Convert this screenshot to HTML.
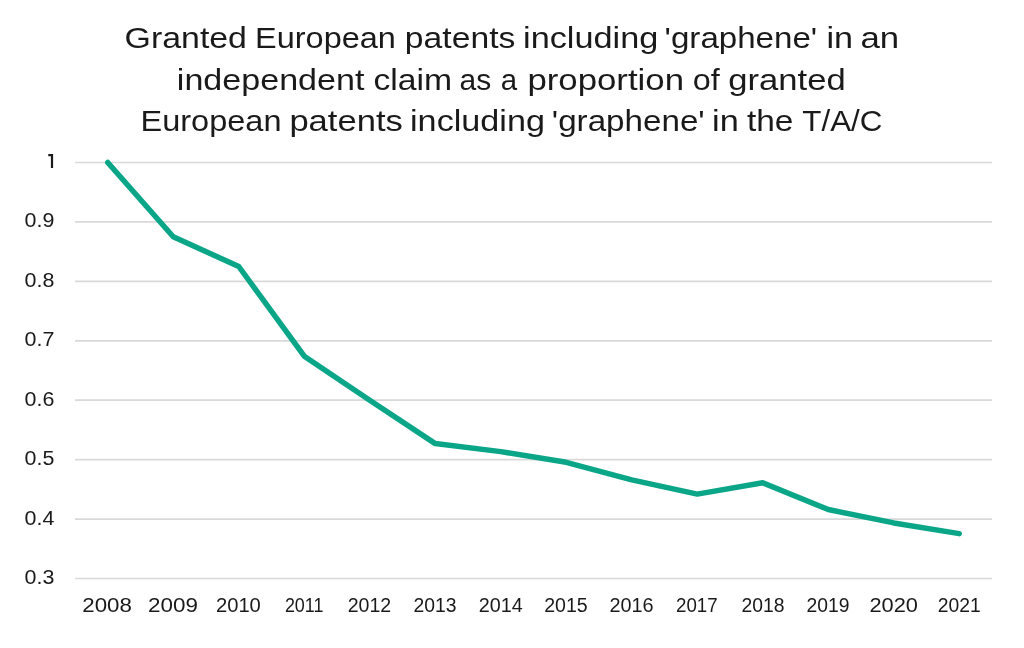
<!DOCTYPE html>
<html><head><meta charset="utf-8"><style>
html,body{margin:0;padding:0;background:#fff;width:1024px;height:648px;overflow:hidden}
svg{display:block;will-change:transform}
.ax{font-family:"Liberation Sans",sans-serif;font-size:19.5px;fill:#1a1a1a}
.tt{font-family:"Liberation Sans",sans-serif;font-size:30px;fill:#1a1a1a}
</style></head><body>
<svg width="1024" height="648" viewBox="0 0 1024 648">
<line x1="75" y1="162.50" x2="992" y2="162.50" stroke="#d9d9d9" stroke-width="1.7"/>
<line x1="75" y1="221.93" x2="992" y2="221.93" stroke="#d9d9d9" stroke-width="1.7"/>
<line x1="75" y1="281.36" x2="992" y2="281.36" stroke="#d9d9d9" stroke-width="1.7"/>
<line x1="75" y1="340.79" x2="992" y2="340.79" stroke="#d9d9d9" stroke-width="1.7"/>
<line x1="75" y1="400.21" x2="992" y2="400.21" stroke="#d9d9d9" stroke-width="1.7"/>
<line x1="75" y1="459.64" x2="992" y2="459.64" stroke="#d9d9d9" stroke-width="1.7"/>
<line x1="75" y1="519.07" x2="992" y2="519.07" stroke="#d9d9d9" stroke-width="1.7"/>
<line x1="75" y1="578.50" x2="992" y2="578.50" stroke="#d9d9d9" stroke-width="1.7"/>
<path d="M48.3,155.2 H52 V167.9" fill="none" stroke="#1a1a1a" stroke-width="2.2"/>
<text x="54.4" y="227.43" text-anchor="end" class="ax" textLength="29.8" lengthAdjust="spacingAndGlyphs">0.9</text>
<text x="54.4" y="286.86" text-anchor="end" class="ax" textLength="29.8" lengthAdjust="spacingAndGlyphs">0.8</text>
<text x="54.4" y="346.29" text-anchor="end" class="ax" textLength="29.8" lengthAdjust="spacingAndGlyphs">0.7</text>
<text x="54.4" y="405.71" text-anchor="end" class="ax" textLength="29.8" lengthAdjust="spacingAndGlyphs">0.6</text>
<text x="54.4" y="465.14" text-anchor="end" class="ax" textLength="29.8" lengthAdjust="spacingAndGlyphs">0.5</text>
<text x="54.4" y="524.57" text-anchor="end" class="ax" textLength="29.8" lengthAdjust="spacingAndGlyphs">0.4</text>
<text x="54.4" y="584.00" text-anchor="end" class="ax" textLength="29.8" lengthAdjust="spacingAndGlyphs">0.3</text>
<text x="107.10" y="611.8" text-anchor="middle" class="ax" textLength="49.6" lengthAdjust="spacingAndGlyphs">2008</text>
<text x="173.00" y="611.8" text-anchor="middle" class="ax" textLength="49.9" lengthAdjust="spacingAndGlyphs">2009</text>
<text x="238.40" y="611.8" text-anchor="middle" class="ax" textLength="44.9" lengthAdjust="spacingAndGlyphs">2010</text>
<text x="304.20" y="611.8" text-anchor="middle" class="ax" textLength="38.6" lengthAdjust="spacingAndGlyphs">2011</text>
<text x="369.40" y="611.8" text-anchor="middle" class="ax" textLength="43.5" lengthAdjust="spacingAndGlyphs">2012</text>
<text x="435.00" y="611.8" text-anchor="middle" class="ax" textLength="43.0" lengthAdjust="spacingAndGlyphs">2013</text>
<text x="500.80" y="611.8" text-anchor="middle" class="ax" textLength="44.0" lengthAdjust="spacingAndGlyphs">2014</text>
<text x="566.00" y="611.8" text-anchor="middle" class="ax" textLength="43.5" lengthAdjust="spacingAndGlyphs">2015</text>
<text x="631.50" y="611.8" text-anchor="middle" class="ax" textLength="44.2" lengthAdjust="spacingAndGlyphs">2016</text>
<text x="696.80" y="611.8" text-anchor="middle" class="ax" textLength="41.6" lengthAdjust="spacingAndGlyphs">2017</text>
<text x="762.90" y="611.8" text-anchor="middle" class="ax" textLength="43.0" lengthAdjust="spacingAndGlyphs">2018</text>
<text x="828.00" y="611.8" text-anchor="middle" class="ax" textLength="43.0" lengthAdjust="spacingAndGlyphs">2019</text>
<text x="893.70" y="611.8" text-anchor="middle" class="ax" textLength="48.5" lengthAdjust="spacingAndGlyphs">2020</text>
<text x="959.30" y="611.8" text-anchor="middle" class="ax" textLength="43.0" lengthAdjust="spacingAndGlyphs">2021</text>
<polyline points="107.75,162.50 173.25,236.79 238.75,266.50 304.25,356.24 369.75,400.21 435.25,443.60 500.75,451.62 566.25,462.32 631.75,479.85 697.25,494.11 762.75,482.82 828.25,509.56 893.75,522.93 959.25,533.63" fill="none" stroke="#0ba687" stroke-width="5.5" stroke-linejoin="round" stroke-linecap="round"/>
<text x="124.61" y="48.4" class="tt" textLength="122.34" lengthAdjust="spacingAndGlyphs">Granted</text>
<text x="255.10" y="48.4" class="tt" textLength="140.77" lengthAdjust="spacingAndGlyphs">European</text>
<text x="404.87" y="48.4" class="tt" textLength="110.48" lengthAdjust="spacingAndGlyphs">patents</text>
<text x="523.02" y="48.4" class="tt" textLength="135.28" lengthAdjust="spacingAndGlyphs">including</text>
<text x="664.64" y="48.4" class="tt" textLength="152.55" lengthAdjust="spacingAndGlyphs">'graphene'</text>
<text x="826.52" y="48.4" class="tt" textLength="26.60" lengthAdjust="spacingAndGlyphs">in</text>
<text x="860.49" y="48.4" class="tt" textLength="38.69" lengthAdjust="spacingAndGlyphs">an</text>
<text x="176.83" y="89.7" class="tt" textLength="187.57" lengthAdjust="spacingAndGlyphs">independent</text>
<text x="373.44" y="89.7" class="tt" textLength="78.72" lengthAdjust="spacingAndGlyphs">claim</text>
<text x="459.60" y="89.7" class="tt" textLength="31.69" lengthAdjust="spacingAndGlyphs">as</text>
<text x="500.63" y="89.7" class="tt" textLength="16.36" lengthAdjust="spacingAndGlyphs">a</text>
<text x="527.40" y="89.7" class="tt" textLength="156.61" lengthAdjust="spacingAndGlyphs">proportion</text>
<text x="692.70" y="89.7" class="tt" textLength="27.02" lengthAdjust="spacingAndGlyphs">of</text>
<text x="728.30" y="89.7" class="tt" textLength="117.45" lengthAdjust="spacingAndGlyphs">granted</text>
<text x="140.59" y="130.7" class="tt" textLength="140.87" lengthAdjust="spacingAndGlyphs">European</text>
<text x="289.41" y="130.7" class="tt" textLength="113.37" lengthAdjust="spacingAndGlyphs">patents</text>
<text x="410.02" y="130.7" class="tt" textLength="134.97" lengthAdjust="spacingAndGlyphs">including</text>
<text x="551.84" y="130.7" class="tt" textLength="152.86" lengthAdjust="spacingAndGlyphs">'graphene'</text>
<text x="712.11" y="130.7" class="tt" textLength="26.72" lengthAdjust="spacingAndGlyphs">in</text>
<text x="746.94" y="130.7" class="tt" textLength="46.51" lengthAdjust="spacingAndGlyphs">the</text>
<text x="802.27" y="130.7" class="tt" textLength="80.16" lengthAdjust="spacingAndGlyphs">T/A/C</text>
</svg>
</body></html>
